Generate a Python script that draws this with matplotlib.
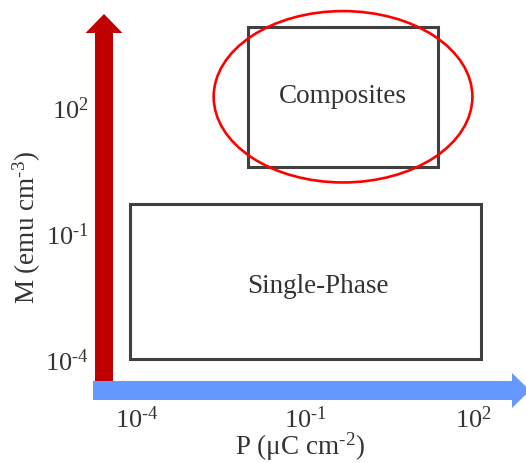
import numpy as np
import matplotlib
matplotlib.use("Agg")
import matplotlib.pyplot as plt
from matplotlib.patches import Rectangle, Ellipse, FancyArrow
from matplotlib.transforms import IdentityTransform

# ---- data ----
x_tick_exponents = [-4, -1, 2]
y_tick_exponents = [-4, -1, 2]
x_limits = [10**-4.589, 10**2.946]
y_limits = [10**-4.745, 10**4.564]

single_phase_P = [7.5e-5, 140.0]      # P range (uC cm^-2)
single_phase_M = [1.05e-4, 0.51]      # M range (emu cm^-3)
composites_P = [0.0096, 24.0]
composites_M = [3.9, 8300.0]

ellipse_center_P = 10**-0.321
ellipse_center_M = 10**2.26
ellipse_width_decades = 4.62
ellipse_height_decades = 4.08

label_single = "Single-Phase"
label_comp = "Composites"
single_label_pos = (10**-0.768, 10**-2.25)
comp_label_pos = (10**-0.321, 10**2.27)

xlabel = "P (\u03bcC cm$^{\u2010 2}$)".replace("\u2010 ", "\u2010")
ylabel = "M (emu cm$^{\u20103}$)"

# ---- style ----
plt.rcParams['font.family'] = ['Liberation Serif', 'DejaVu Serif']
plt.rcParams['mathtext.fontset'] = 'custom'
plt.rcParams['mathtext.rm'] = 'Liberation Serif'
plt.rcParams['mathtext.it'] = 'Liberation Serif:italic'
plt.rcParams['mathtext.default'] = 'regular'

text_color = '#333333'
box_color = '#404040'


def tick_label(e):
    s = str(e).replace('-', '\u2010')
    return f"10$^{{{s}}}$"


fig = plt.figure(figsize=(5.26, 4.63), dpi=100)
ax = fig.add_axes([104/526, 72/463, 422/526, 391/463])
ax.set_xscale('log')
ax.set_yscale('log')
ax.set_xlim(*x_limits)
ax.set_ylim(*y_limits)
for s in ax.spines.values():
    s.set_visible(False)
ax.patch.set_alpha(0)

ax.set_xticks([10.0**e for e in x_tick_exponents],
              [tick_label(e) for e in x_tick_exponents])
ax.set_yticks([10.0**e for e in y_tick_exponents],
              [tick_label(e) for e in y_tick_exponents])
ax.minorticks_off()
ax.tick_params(axis='x', length=0, pad=11.0, labelsize=19, labelcolor=text_color)
ax.tick_params(axis='y', length=0, pad=10.8, labelsize=19, labelcolor=text_color)

ax.set_xlabel(xlabel, fontsize=19.5, color=text_color, va='center')
ax.xaxis.set_label_coords((300-104)/422, (391-447)/391)
ax.set_ylabel(ylabel, fontsize=19.5, color=text_color, va='center')
ax.yaxis.set_label_coords((27-104)/422, (391-228)/391)

# boxes
ax.add_patch(Rectangle((single_phase_P[0], single_phase_M[0]),
                       single_phase_P[1]-single_phase_P[0],
                       single_phase_M[1]-single_phase_M[0],
                       fill=False, edgecolor=box_color, linewidth=2.2, zorder=3))
ax.add_patch(Rectangle((composites_P[0], composites_M[0]),
                       composites_P[1]-composites_P[0],
                       composites_M[1]-composites_M[0],
                       fill=False, edgecolor=box_color, linewidth=2.2, zorder=3))

# ellipse in log space
ax.add_patch(Ellipse((np.log10(ellipse_center_P), np.log10(ellipse_center_M)),
                     ellipse_width_decades, ellipse_height_decades,
                     transform=ax.transLimits + ax.transAxes,
                     fill=False, edgecolor='#FF0000', linewidth=1.9, zorder=4))

ax.text(*comp_label_pos, label_comp, fontsize=19.5, color=text_color,
        ha='center', va='center')
ax.text(*single_label_pos, label_single, fontsize=19.5, color=text_color,
        ha='center', va='center')

# axis arrows (display pixels)
fig.add_artist(FancyArrow(104, 463-382, 0, 368, width=18, head_width=37,
                          head_length=19, length_includes_head=True,
                          color='#C00000', transform=IdentityTransform(),
                          linewidth=0))
fig.add_artist(FancyArrow(93, 463-390.5, 437, 0, width=19, head_width=35,
                          head_length=18, length_includes_head=True,
                          color='#6699FF', transform=IdentityTransform(),
                          linewidth=0))

fig.savefig("out.png", dpi=100)
